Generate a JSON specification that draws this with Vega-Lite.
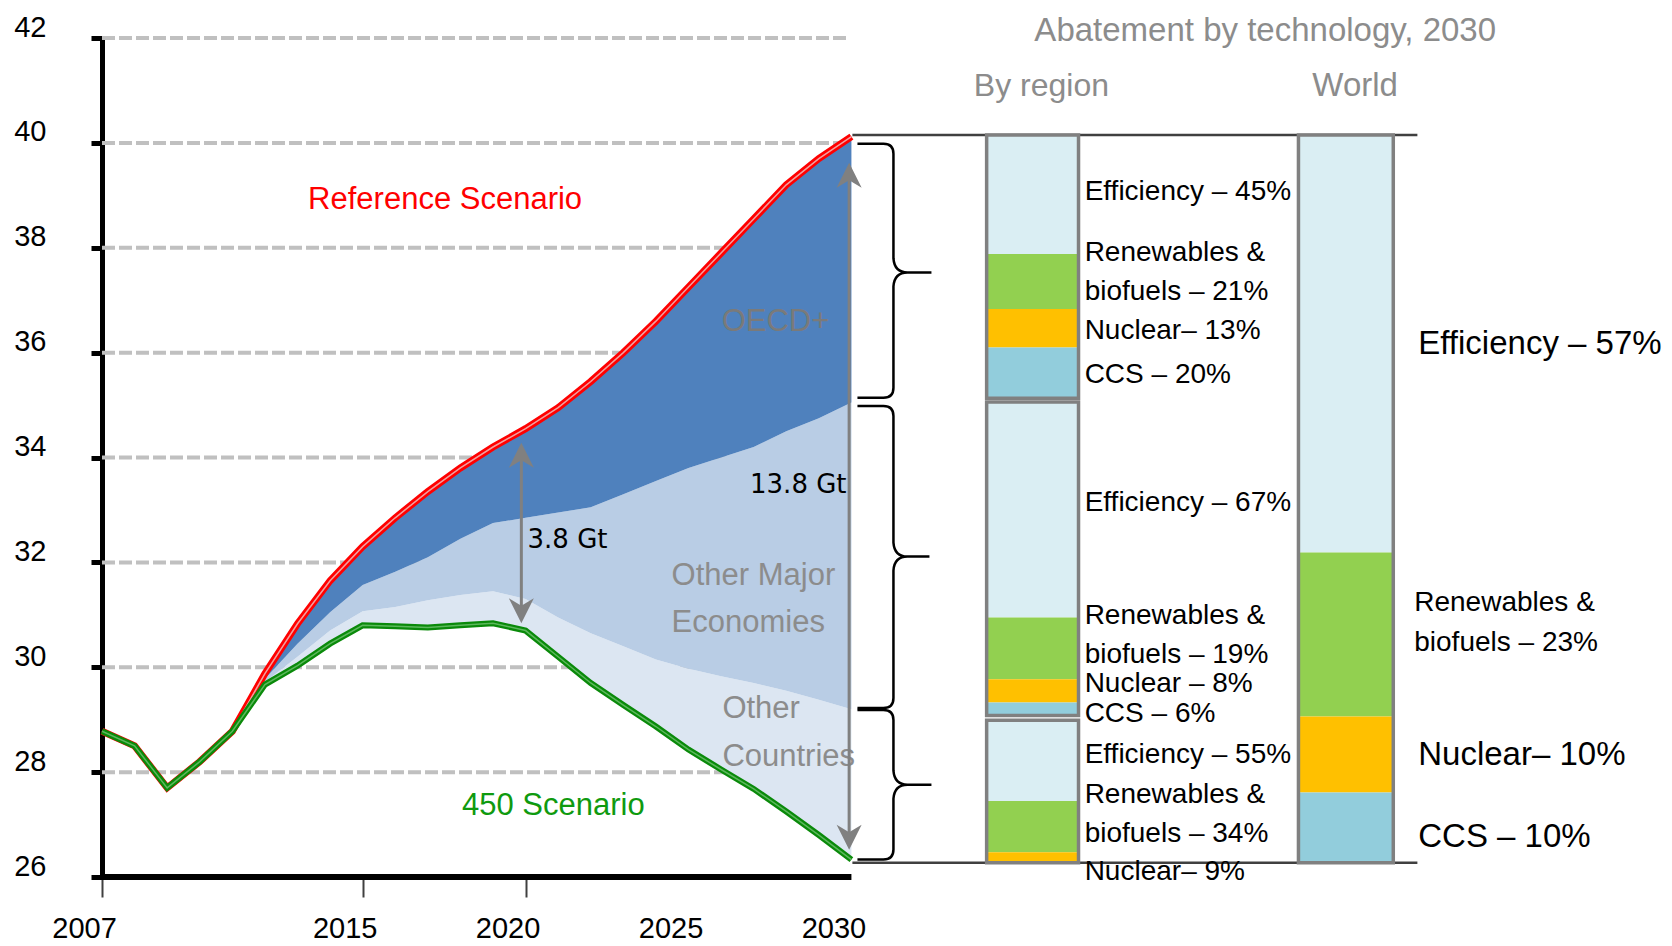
{
  "$schema": "https://vega.github.io/schema/vega-lite/v6.json",
  "width": 1564,
  "height": 839,
  "autosize": {"type": "none"},
  "padding": {"left": 102, "top": 38, "right": 6, "bottom": 69},
  "background": "white",
  "config": {"view": {"stroke": null}, "font": "Liberation Sans", "text": {"font": "Liberation Sans"}},
  "resolve": {"axis": {"x": "independent", "y": "independent"}},
  "data": {"values": [{}]},
  "datasets": {
    "series": [
      {"year": 2007, "s450": 28.78, "oc": 28.78, "ome": 28.78, "ref": 28.78},
      {"year": 2008, "s450": 28.5, "oc": 28.5, "ome": 28.5, "ref": 28.5},
      {"year": 2009, "s450": 27.7, "oc": 27.7, "ome": 27.7, "ref": 27.7},
      {"year": 2010, "s450": 28.2, "oc": 28.2, "ome": 28.2, "ref": 28.2},
      {"year": 2011, "s450": 28.78, "oc": 28.78, "ome": 28.78, "ref": 28.78},
      {"year": 2012, "s450": 29.67, "oc": 29.72, "ome": 29.78, "ref": 29.88},
      {"year": 2013, "s450": 30.03, "oc": 30.2, "ome": 30.45, "ref": 30.83},
      {"year": 2014, "s450": 30.45, "oc": 30.7, "ome": 31.05, "ref": 31.65},
      {"year": 2015, "s450": 30.8, "oc": 31.07, "ome": 31.57, "ref": 32.3},
      {"year": 2016, "s450": 30.78, "oc": 31.15, "ome": 31.82, "ref": 32.85},
      {"year": 2017, "s450": 30.76, "oc": 31.28, "ome": 32.1, "ref": 33.35},
      {"year": 2018, "s450": 30.8, "oc": 31.38, "ome": 32.45, "ref": 33.8},
      {"year": 2019, "s450": 30.84, "oc": 31.45, "ome": 32.75, "ref": 34.2},
      {"year": 2020, "s450": 30.7, "oc": 31.3, "ome": 32.85, "ref": 34.55},
      {"year": 2021, "s450": 30.2, "oc": 30.95, "ome": 32.95, "ref": 34.95},
      {"year": 2022, "s450": 29.7, "oc": 30.65, "ome": 33.05, "ref": 35.45},
      {"year": 2023, "s450": 29.28, "oc": 30.4, "ome": 33.3, "ref": 36.0},
      {"year": 2024, "s450": 28.87, "oc": 30.15, "ome": 33.55, "ref": 36.6},
      {"year": 2025, "s450": 28.43, "oc": 29.97, "ome": 33.8, "ref": 37.25},
      {"year": 2026, "s450": 28.05, "oc": 29.83, "ome": 34.0, "ref": 37.9},
      {"year": 2027, "s450": 27.68, "oc": 29.7, "ome": 34.2, "ref": 38.55},
      {"year": 2028, "s450": 27.25, "oc": 29.55, "ome": 34.5, "ref": 39.2},
      {"year": 2029, "s450": 26.8, "oc": 29.38, "ome": 34.75, "ref": 39.7},
      {"year": 2030, "s450": 26.33, "oc": 29.2, "ome": 35.05, "ref": 40.12}
    ],
    "grid": [{"v": 28}, {"v": 30}, {"v": 32}, {"v": 34}, {"v": 36}, {"v": 38}, {"v": 40}, {"v": 42}],
    "segments": [
      {"grp": "region", "block": "OECD+", "tech": "Efficiency", "lo": 37.88, "hi": 40.15},
      {"grp": "region", "block": "OECD+", "tech": "Renewables & biofuels", "lo": 36.83, "hi": 37.88},
      {"grp": "region", "block": "OECD+", "tech": "Nuclear", "lo": 36.1, "hi": 36.83},
      {"grp": "region", "block": "OECD+", "tech": "CCS", "lo": 35.13, "hi": 36.1},
      {"grp": "region", "block": "Other Major Economies", "tech": "Efficiency", "lo": 30.95, "hi": 35.06},
      {"grp": "region", "block": "Other Major Economies", "tech": "Renewables & biofuels", "lo": 29.77, "hi": 30.95},
      {"grp": "region", "block": "Other Major Economies", "tech": "Nuclear", "lo": 29.33, "hi": 29.77},
      {"grp": "region", "block": "Other Major Economies", "tech": "CCS", "lo": 29.08, "hi": 29.33},
      {"grp": "region", "block": "Other Countries", "tech": "Efficiency", "lo": 27.45, "hi": 28.99},
      {"grp": "region", "block": "Other Countries", "tech": "Renewables & biofuels", "lo": 26.47, "hi": 27.45},
      {"grp": "region", "block": "Other Countries", "tech": "Nuclear", "lo": 26.27, "hi": 26.47},
      {"grp": "world", "block": "World", "tech": "Efficiency", "lo": 32.19, "hi": 40.15},
      {"grp": "world", "block": "World", "tech": "Renewables & biofuels", "lo": 29.06, "hi": 32.19},
      {"grp": "world", "block": "World", "tech": "Nuclear", "lo": 27.61, "hi": 29.06},
      {"grp": "world", "block": "World", "tech": "CCS", "lo": 26.27, "hi": 27.61}
    ],
    "blocks": [
      {"grp": "region", "block": "OECD+", "lo": 35.13, "hi": 40.15},
      {"grp": "region", "block": "Other Major Economies", "lo": 29.08, "hi": 35.06},
      {"grp": "region", "block": "Other Countries", "lo": 26.27, "hi": 28.99},
      {"grp": "world", "block": "World", "lo": 26.27, "hi": 40.15}
    ],
    "braces": [
      {"block": "OECD+", "mid": 37.53},
      {"block": "Other Major Economies", "mid": 32.11},
      {"block": "Other Countries", "mid": 27.76}
    ],
    "labels": [
      {"grp": "region", "tech": "Efficiency", "text": "Efficiency – 45%", "at": 39.06},
      {"grp": "region", "tech": "Renewables", "text": "Renewables &\nbiofuels – 21%", "at": 37.9},
      {"grp": "region", "tech": "Nuclear", "text": "Nuclear– 13%", "at": 36.41},
      {"grp": "region", "tech": "CCS", "text": "CCS – 20%", "at": 35.57},
      {"grp": "region", "tech": "Efficiency", "text": "Efficiency – 67%", "at": 33.14},
      {"grp": "region", "tech": "Renewables", "text": "Renewables &\nbiofuels – 19%", "at": 30.98},
      {"grp": "region", "tech": "Nuclear", "text": "Nuclear – 8%", "at": 29.68},
      {"grp": "region", "tech": "CCS", "text": "CCS – 6%", "at": 29.11},
      {"grp": "region", "tech": "Efficiency", "text": "Efficiency – 55%", "at": 28.32},
      {"grp": "region", "tech": "Renewables", "text": "Renewables &\nbiofuels – 34%", "at": 27.56},
      {"grp": "region", "tech": "Nuclear", "text": "Nuclear– 9%", "at": 26.1},
      {"grp": "world", "tech": "Efficiency", "text": "Efficiency – 57%", "at": 36.16},
      {"grp": "world", "tech": "Renewables", "text": "Renewables &\nbiofuels – 23%", "at": 31.23},
      {"grp": "world", "tech": "Nuclear", "text": "Nuclear– 10%", "at": 28.33},
      {"grp": "world", "tech": "CCS", "text": "CCS – 10%", "at": 26.77}
    ]
  },
  "layer": [
    {
      "data": {"name": "grid"},
      "mark": {"type": "rule", "color": "#c0c0c0", "strokeWidth": 4, "strokeDash": [13, 4]},
      "encoding": {
        "x": {"datum": 2007, "type": "quantitative",
          "scale": {"domain": [2007, 2055], "nice": false, "zero": false},
          "axis": {"title": null, "values": [2007, 2015, 2020, 2025, 2030], "format": "d", "domain": false, "grid": false,
            "tickSize": 20, "tickWidth": 2, "tickColor": "#404040",
            "tickOpacity": {"condition": {"test": "datum.value > 2022", "value": 0}, "value": 1},
            "labelFontSize": 29, "labelColor": "#000000", "labelPadding": 17, "labelOffset": -18,
            "labelFlush": false, "labelOverlap": false}},
        "x2": {"datum": 2029.9},
        "y": {"field": "v", "type": "quantitative",
          "scale": {"domain": [26, 42], "nice": false, "zero": false},
          "axis": {"title": null, "values": [26, 28, 30, 32, 34, 36, 38, 40, 42], "grid": false,
            "domainColor": "#000000", "domainWidth": 5, "tickColor": "#000000", "tickWidth": 5, "tickSize": 11,
            "labelFontSize": 29, "labelColor": "#000000", "labelPadding": 45, "labelOffset": -11, "labelFlush": false, "labelOverlap": false}}
      }
    },
    {
      "data": {"name": "series"},
      "mark": {"type": "area", "color": "#DCE6F2", "opacity": 1},
      "encoding": {"x": {"field": "year", "type": "quantitative", "axis": null}, "y": {"field": "oc", "type": "quantitative", "axis": null}, "y2": {"field": "s450"}}
    },
    {
      "data": {"name": "series"},
      "mark": {"type": "area", "color": "#B9CDE5", "opacity": 1},
      "encoding": {"x": {"field": "year", "type": "quantitative", "axis": null}, "y": {"field": "ome", "type": "quantitative", "axis": null}, "y2": {"field": "oc"}}
    },
    {
      "data": {"name": "series"},
      "mark": {"type": "area", "color": "#4F81BD", "opacity": 1},
      "encoding": {"x": {"field": "year", "type": "quantitative", "axis": null}, "y": {"field": "ref", "type": "quantitative", "axis": null}, "y2": {"field": "ome"}}
    },
    {
      "mark": {"type": "rule", "color": "#000000", "strokeWidth": 6},
      "encoding": {"x": {"datum": 2007, "type": "quantitative", "axis": null}, "x2": {"datum": 2030}, "y": {"datum": 26, "type": "quantitative", "axis": null}}
    },
    {
      "data": {"name": "series"},
      "mark": {"type": "line", "color": "#FF0000", "strokeWidth": 7},
      "encoding": {"x": {"field": "year", "type": "quantitative", "axis": null}, "y": {"field": "ref", "type": "quantitative", "axis": null}}
    },
    {
      "data": {"name": "series"},
      "mark": {"type": "line", "color": "#f2a0a0", "strokeWidth": 1.5},
      "encoding": {"x": {"field": "year", "type": "quantitative", "axis": null}, "y": {"field": "ref", "type": "quantitative", "axis": null}}
    },
    {
      "data": {"name": "series"},
      "mark": {"type": "line", "color": "#0a8a0a", "strokeWidth": 6},
      "encoding": {"x": {"field": "year", "type": "quantitative", "axis": null}, "y": {"field": "s450", "type": "quantitative", "axis": null}}
    },
    {
      "data": {"name": "series"},
      "mark": {"type": "line", "color": "#5cb85c", "strokeWidth": 1.5},
      "encoding": {"x": {"field": "year", "type": "quantitative", "axis": null}, "y": {"field": "s450", "type": "quantitative", "axis": null}}
    },
    {
      "mark": {"type": "text", "text": "Reference Scenario", "color": "#FF0000", "fontSize": 31, "align": "center", "baseline": "middle"},
      "encoding": {"x": {"datum": 2017.53, "type": "quantitative", "axis": null}, "y": {"datum": 38.91, "type": "quantitative", "axis": null}}
    },
    {
      "mark": {"type": "text", "text": "450 Scenario", "color": "#0f9a0f", "fontSize": 31, "align": "center", "baseline": "middle"},
      "encoding": {"x": {"datum": 2020.85, "type": "quantitative", "axis": null}, "y": {"datum": 27.36, "type": "quantitative", "axis": null}}
    },
    {
      "mark": {"type": "text", "text": "OECD+", "color": "#7a7a7a", "fontSize": 31, "align": "center", "baseline": "middle"},
      "encoding": {"x": {"datum": 2027.67, "type": "quantitative", "axis": null}, "y": {"datum": 36.59, "type": "quantitative", "axis": null}}
    },
    {
      "mark": {"type": "text", "text": ["Other Major", "Economies"], "color": "#8c8c8c", "fontSize": 31, "lineHeight": 47, "align": "left", "baseline": "middle"},
      "encoding": {"x": {"datum": 2024.48, "type": "quantitative", "axis": null}, "y": {"datum": 31.74, "type": "quantitative", "axis": null}}
    },
    {
      "mark": {"type": "text", "text": ["Other", "Countries"], "color": "#8c8c8c", "fontSize": 31, "lineHeight": 48, "align": "left", "baseline": "middle"},
      "encoding": {"x": {"datum": 2026.04, "type": "quantitative", "axis": null}, "y": {"datum": 29.21, "type": "quantitative", "axis": null}}
    },
    {
      "mark": {"type": "text", "text": "3.8 Gt", "font": "DejaVu Sans", "color": "#000000", "fontSize": 26, "align": "left", "baseline": "middle"},
      "encoding": {"x": {"datum": 2020.06, "type": "quantitative", "axis": null}, "y": {"datum": 32.43, "type": "quantitative", "axis": null}}
    },
    {
      "mark": {"type": "text", "text": "13.8 Gt", "font": "DejaVu Sans", "color": "#000000", "fontSize": 26, "align": "right", "baseline": "middle"},
      "encoding": {"x": {"datum": 2029.85, "type": "quantitative", "axis": null}, "y": {"datum": 33.48, "type": "quantitative", "axis": null}}
    },
    {
      "mark": {"type": "rule", "color": "#808080", "strokeWidth": 3},
      "encoding": {"x": {"datum": 2019.87, "type": "quantitative", "axis": null}, "y": {"datum": 30.95, "type": "quantitative", "axis": null}, "y2": {"datum": 34.2}}
    },
    {
      "mark": {"type": "rule", "color": "#808080", "strokeWidth": 3},
      "encoding": {"x": {"datum": 2029.93, "type": "quantitative", "axis": null}, "y": {"datum": 26.6, "type": "quantitative", "axis": null}, "y2": {"datum": 39.55}}
    },
    {
      "mark": {"type": "point", "shape": "M0,0L1,2L0,1.4L-1,2Z", "filled": true, "color": "#808080", "opacity": 1, "size": 625},
      "encoding": {"x": {"datum": 2019.87, "type": "quantitative", "axis": null}, "y": {"datum": 34.28, "type": "quantitative", "axis": null}}
    },
    {
      "mark": {"type": "point", "shape": "M0,0L1,-2L0,-1.4L-1,-2Z", "filled": true, "color": "#808080", "opacity": 1, "size": 625},
      "encoding": {"x": {"datum": 2019.87, "type": "quantitative", "axis": null}, "y": {"datum": 30.84, "type": "quantitative", "axis": null}}
    },
    {
      "mark": {"type": "point", "shape": "M0,0L1,2L0,1.4L-1,2Z", "filled": true, "color": "#808080", "opacity": 1, "size": 625},
      "encoding": {"x": {"datum": 2029.93, "type": "quantitative", "axis": null}, "y": {"datum": 39.62, "type": "quantitative", "axis": null}}
    },
    {
      "mark": {"type": "point", "shape": "M0,0L1,-2L0,-1.4L-1,-2Z", "filled": true, "color": "#808080", "opacity": 1, "size": 625},
      "encoding": {"x": {"datum": 2029.93, "type": "quantitative", "axis": null}, "y": {"datum": 26.52, "type": "quantitative", "axis": null}}
    },
    {
      "mark": {"type": "rule", "color": "#404040", "strokeWidth": 2.5},
      "encoding": {"x": {"datum": 2030.03, "type": "quantitative", "axis": null}, "x2": {"datum": 2047.37}, "y": {"datum": 40.15, "type": "quantitative", "axis": null}}
    },
    {
      "mark": {"type": "rule", "color": "#404040", "strokeWidth": 2.5},
      "encoding": {"x": {"datum": 2030.03, "type": "quantitative", "axis": null}, "x2": {"datum": 2047.37}, "y": {"datum": 26.27, "type": "quantitative", "axis": null}}
    },
    {
      "data": {"name": "segments"},
      "transform": [{"filter": "datum.grp === 'region'"}],
      "mark": {"type": "rect"},
      "encoding": {
        "x": {"datum": 2034.15, "type": "quantitative", "axis": null}, "x2": {"datum": 2036.97},
        "y": {"field": "lo", "type": "quantitative", "axis": null}, "y2": {"field": "hi"},
        "color": {"field": "tech", "type": "nominal", "legend": null,
          "scale": {"domain": ["Efficiency", "Renewables & biofuels", "Nuclear", "CCS"], "range": ["#DAEEF3", "#92D050", "#FFC000", "#92CDDC"]}}
      }
    },
    {
      "data": {"name": "segments"},
      "transform": [{"filter": "datum.grp === 'world'"}],
      "mark": {"type": "rect"},
      "encoding": {
        "x": {"datum": 2043.72, "type": "quantitative", "axis": null}, "x2": {"datum": 2046.63},
        "y": {"field": "lo", "type": "quantitative", "axis": null}, "y2": {"field": "hi"},
        "color": {"field": "tech", "type": "nominal", "legend": null,
          "scale": {"domain": ["Efficiency", "Renewables & biofuels", "Nuclear", "CCS"], "range": ["#DAEEF3", "#92D050", "#FFC000", "#92CDDC"]}}
      }
    },
    {
      "data": {"name": "blocks"},
      "transform": [{"filter": "datum.grp === 'region'"}],
      "mark": {"type": "rect", "fill": "transparent", "stroke": "#808080", "strokeWidth": 3.5},
      "encoding": {
        "x": {"datum": 2034.15, "type": "quantitative", "axis": null}, "x2": {"datum": 2036.97},
        "y": {"field": "lo", "type": "quantitative", "axis": null}, "y2": {"field": "hi"}
      }
    },
    {
      "data": {"name": "blocks"},
      "transform": [{"filter": "datum.grp === 'world'"}],
      "mark": {"type": "rect", "fill": "transparent", "stroke": "#808080", "strokeWidth": 3.5},
      "encoding": {
        "x": {"datum": 2043.72, "type": "quantitative", "axis": null}, "x2": {"datum": 2046.63},
        "y": {"field": "lo", "type": "quantitative", "axis": null}, "y2": {"field": "hi"}
      }
    },
    {
      "data": {"name": "braces"},
      "mark": {"type": "point", "filled": false, "color": "#000000", "strokeWidth": 2.5, "opacity": 1, "size": 4},
      "encoding": {
        "x": {"datum": 2031.29, "type": "quantitative", "axis": null},
        "y": {"field": "mid", "type": "quantitative", "axis": null},
        "shape": {"field": "block", "type": "nominal", "legend": null,
          "scale": {"domain": ["OECD+", "Other Major Economies", "Other Countries"],
            "range": [
              "M-36,-128.7L-10,-128.7Q0,-128.7 0,-118.7L0,-14Q1,0 14,0L38,0M14,0Q1,0 0,14L0,115.3Q0,125.3 -10,125.3L-36,125.3",
              "M-36,-150.7L-10,-150.7Q0,-150.7 0,-140.7L0,-14Q1,0 14,0L36,0M14,0Q1,0 0,14L0,141.3Q0,151.3 -10,151.3L-36,151.3",
              "M-36,-74.7L-10,-74.7Q0,-74.7 0,-64.7L0,-14Q1,0 14,0L38,0M14,0Q1,0 0,14L0,64.9Q0,74.9 -10,74.9L-36,74.9"
            ]}}
      }
    },
    {
      "data": {"name": "labels"},
      "transform": [{"filter": "datum.grp === 'region'"}],
      "mark": {"type": "text", "align": "left", "baseline": "middle", "fontSize": 28, "lineHeight": 39, "lineBreak": "\n", "dx": 4.5, "color": "#000000"},
      "encoding": {"x": {"datum": 2037.02, "type": "quantitative", "axis": null}, "y": {"field": "at", "type": "quantitative", "axis": null}, "text": {"field": "text"}}
    },
    {
      "data": {"name": "labels"},
      "transform": [{"filter": "datum.grp === 'world' && datum.tech !== 'Renewables'"}],
      "mark": {"type": "text", "align": "left", "baseline": "middle", "fontSize": 33, "dx": 24, "color": "#000000"},
      "encoding": {"x": {"datum": 2046.66, "type": "quantitative", "axis": null}, "y": {"field": "at", "type": "quantitative", "axis": null}, "text": {"field": "text"}}
    },
    {
      "data": {"name": "labels"},
      "transform": [{"filter": "datum.grp === 'world' && datum.tech === 'Renewables'"}],
      "mark": {"type": "text", "align": "left", "baseline": "middle", "fontSize": 28, "lineHeight": 40, "lineBreak": "\n", "dx": 20, "color": "#000000"},
      "encoding": {"x": {"datum": 2046.66, "type": "quantitative", "axis": null}, "y": {"field": "at", "type": "quantitative", "axis": null}, "text": {"field": "text"}}
    },
    {
      "mark": {"type": "text", "text": "Abatement by technology, 2030", "color": "#8c8c8c", "fontSize": 33, "align": "center", "baseline": "middle"},
      "encoding": {"x": {"datum": 2042.7, "type": "quantitative", "axis": null}, "y": {"datum": 42.13, "type": "quantitative", "axis": null}}
    },
    {
      "mark": {"type": "text", "text": "By region", "color": "#8c8c8c", "fontSize": 32, "align": "center", "baseline": "middle"},
      "encoding": {"x": {"datum": 2035.83, "type": "quantitative", "axis": null}, "y": {"datum": 41.08, "type": "quantitative", "axis": null}}
    },
    {
      "mark": {"type": "text", "text": "World", "color": "#8c8c8c", "fontSize": 33, "align": "center", "baseline": "middle"},
      "encoding": {"x": {"datum": 2045.46, "type": "quantitative", "axis": null}, "y": {"datum": 41.08, "type": "quantitative", "axis": null}}
    }
  ]
}
